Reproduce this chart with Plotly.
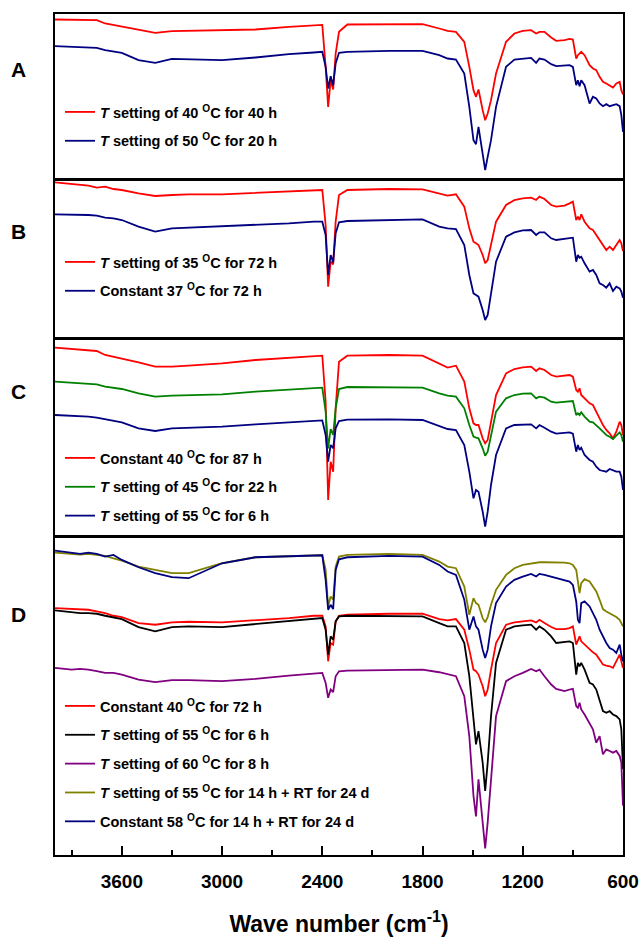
import plotly.graph_objects as go

# Wavenumber grid (cm-1) at which values were read
WAVENUMBER = [4000, 3900, 3850, 3800, 3750, 3700, 3650, 3600, 3500, 3400, 3300, 3200, 3000, 2800,
              2600, 2450, 2400, 2380, 2365, 2350, 2335, 2320, 2300, 2250, 2000, 1800, 1700, 1650,
              1600, 1550, 1520, 1495, 1480, 1465, 1440, 1425, 1410, 1390, 1360, 1300, 1250, 1200,
              1150, 1120, 1100, 1070, 1030, 1000, 950, 920, 900, 880, 870, 860, 850, 830, 800, 780,
              760, 740, 720, 700, 680, 660, 640, 620, 610, 600]

# Panel A (transmittance, arbitrary units)
A_RED = [477, 477, 477, 477, 475, 465, 460, 457, 445, 437, 442, 443, 443, 447, 455, 461, 461, 335, 215, 295,
         267, 375, 440, 462, 463, 463, 450, 443, 440, 410, 335, 265, 245, 267, 205, 175, 195, 235, 315, 410,
         435, 443, 445, 435, 440, 440, 423, 413, 415, 419, 417, 360, 370, 375, 380, 370, 340, 330, 325, 305,
         290, 285, 280, 273, 285, 290, 265, 252]
A_BLUE = [397, 395, 393, 393, 392, 385, 380, 377, 355, 347, 359, 358, 355, 363, 373, 378, 380, 335, 270, 307,
          280, 345, 377, 380, 383, 383, 370, 360, 357, 315, 215, 115, 103, 155, 75, 25, 65, 115, 215, 335,
          357, 360, 362, 347, 360, 357, 343, 337, 338, 340, 335, 280, 295, 277, 295, 280, 225, 245, 240, 225,
          217, 223, 217, 220, 223, 217, 190, 140]

# Panel B
B_RED = [467, 461, 459, 457, 451, 454, 447, 444, 434, 426, 429, 431, 431, 436, 441, 444, 444, 339, 154, 229,
         221, 349, 429, 444, 447, 446, 434, 427, 431, 394, 329, 289, 284, 279, 249, 224, 234, 279, 349, 399,
         414, 419, 421, 414, 424, 417, 399, 394, 397, 404, 409, 354, 364, 354, 371, 349, 329, 324, 309, 294,
         279, 264, 274, 264, 279, 294, 284, 261]
B_BLUE = [371, 371, 369, 369, 367, 361, 359, 354, 334, 319, 329, 331, 334, 339, 344, 349, 349, 309, 189, 249,
          227, 314, 347, 351, 354, 356, 334, 329, 327, 279, 189, 134, 129, 124, 84, 54, 69, 129, 229, 304,
          317, 323, 324, 309, 317, 317, 299, 294, 297, 299, 301, 229, 249, 241, 244, 224, 199, 204, 189, 164,
          159, 151, 164, 141, 154, 149, 139, 121]

# Panel C
C_RED = [565, 561, 559, 559, 555, 543, 538, 533, 521, 508, 508, 511, 518, 528, 535, 541, 541, 403, 108, 223,
         193, 383, 523, 541, 543, 541, 518, 505, 511, 463, 383, 338, 333, 333, 293, 278, 288, 343, 423, 488,
         501, 506, 508, 495, 503, 498, 483, 478, 481, 483, 478, 438, 433, 443, 423, 413, 398, 393, 375, 353,
         333, 318, 308, 293, 313, 343, 333, 303]
C_GREEN = [463, 460, 458, 458, 455, 448, 445, 441, 428, 418, 421, 423, 425, 433, 440, 445, 445, 373, 263, 321,
           303, 383, 441, 447, 445, 445, 428, 421, 418, 383, 333, 298, 295, 293, 263, 241, 253, 303, 373, 413,
           423, 427, 428, 413, 418, 415, 403, 400, 403, 405, 405, 363, 368, 363, 371, 358, 343, 341, 333, 323,
           313, 303, 298, 291, 301, 311, 303, 283]
C_BLUE = [363, 361, 359, 358, 355, 351, 345, 341, 323, 315, 323, 325, 328, 335, 341, 347, 347, 303, 223, 273,
          263, 323, 345, 349, 350, 348, 331, 321, 318, 273, 193, 113, 138, 133, 73, 28, 73, 153, 243, 323,
          333, 335, 335, 323, 333, 325, 313, 307, 310, 311, 307, 253, 273, 258, 265, 243, 228, 223, 208, 198,
          195, 193, 201, 198, 193, 193, 178, 138]

# Panel D
D_RED = [743, 740, 738, 738, 733, 728, 720, 716, 698, 693, 700, 702, 700, 706, 713, 720, 720, 688, 583, 638,
         633, 703, 720, 723, 726, 726, 710, 706, 710, 678, 618, 558, 553, 543, 508, 478, 498, 558, 638, 693,
         700, 703, 706, 700, 708, 698, 686, 680, 680, 683, 688, 633, 648, 658, 643, 633, 618, 610, 603, 588,
         573, 570, 568, 563, 583, 603, 583, 563]
D_BLACK = [736, 730, 728, 728, 726, 720, 716, 710, 686, 673, 686, 688, 686, 695, 706, 712, 713, 678, 603, 658,
           648, 703, 718, 720, 720, 718, 698, 688, 688, 638, 538, 418, 333, 373, 278, 193, 278, 418, 578, 678,
           688, 691, 693, 678, 688, 678, 658, 638, 640, 643, 638, 543, 578, 568, 578, 558, 518, 513, 498, 468,
           433, 428, 433, 423, 418, 408, 378, 258]
D_PURPLE = [563, 558, 560, 558, 553, 548, 548, 543, 528, 520, 526, 526, 523, 530, 540, 546, 548, 518, 473, 498,
            490, 538, 553, 555, 556, 558, 550, 543, 538, 478, 358, 178, 116, 228, 98, 20, 98, 238, 418, 523,
            538, 548, 560, 553, 558, 538, 513, 500, 493, 498, 500, 448, 443, 458, 438, 423, 398, 378, 338, 358,
            303, 318, 313, 308, 313, 298, 278, 148]
D_OLIVE = [910, 906, 904, 906, 903, 900, 893, 886, 868, 858, 848, 848, 878, 896, 900, 902, 902, 858, 748, 778,
           768, 868, 898, 903, 906, 903, 883, 868, 863, 808, 723, 773, 758, 753, 713, 700, 716, 753, 798, 843,
           863, 873, 878, 880, 881, 881, 881, 880, 880, 878, 873, 858, 813, 788, 818, 830, 823, 808, 793, 768,
           740, 733, 728, 723, 716, 708, 698, 688]
D_NAVY = [916, 908, 906, 910, 906, 898, 903, 888, 866, 848, 836, 833, 878, 896, 900, 902, 902, 828, 738, 753,
          740, 858, 890, 896, 900, 898, 873, 853, 843, 768, 678, 718, 688, 678, 618, 593, 618, 688, 758, 808,
          828, 838, 846, 838, 846, 843, 838, 833, 828, 823, 813, 763, 708, 698, 758, 763, 748, 730, 708, 678,
          658, 638, 623, 618, 608, 633, 603, 583]

PANEL_LABELS = ["A", "B", "C", "D"]
TICK_VALUES = [3600, 3000, 2400, 1800, 1200, 600]
TICK_LABELS = ["3600", "3000", "2400", "1800", "1200", "600"]
X_TITLE = "Wave number (cm<sup>-1</sup>)"

RED, NAVY, GREEN, BLACK, PURPLE, OLIVE = "#ff0000", "#000080", "#008000", "#000000", "#800080", "#808000"

PANELS = [
    [("<i>T</i> setting of 40 <sup>O</sup>C for 40 h", A_RED, RED),
     ("<i>T</i> setting of 50 <sup>O</sup>C for 20 h", A_BLUE, NAVY)],
    [("<i>T</i> setting of 35 <sup>O</sup>C for 72 h", B_RED, RED),
     ("Constant 37 <sup>O</sup>C for 72 h", B_BLUE, NAVY)],
    [("Constant 40 <sup>O</sup>C for 87 h", C_RED, RED),
     ("<i>T</i> setting of 45 <sup>O</sup>C for 22 h", C_GREEN, GREEN),
     ("<i>T</i> setting of 55 <sup>O</sup>C for 6 h", C_BLUE, NAVY)],
    [("Constant 40 <sup>O</sup>C for 72 h", D_RED, RED),
     ("<i>T</i> setting of 55 <sup>O</sup>C for 6 h", D_BLACK, BLACK),
     ("<i>T</i> setting of 60 <sup>O</sup>C for 8 h", D_PURPLE, PURPLE),
     ("<i>T</i> setting of 55 <sup>O</sup>C for 14 h + RT for 24 d", D_OLIVE, OLIVE),
     ("Constant 58 <sup>O</sup>C for 14 h + RT for 24 d", D_NAVY, NAVY)],
]

for panel in PANELS:
    for _, vals, _ in panel:
        assert len(vals) == len(WAVENUMBER), len(vals)

# layout geometry (pixels)
W, H = 642, 937
ML, MR, MT, MB = 55, 19, 14, 82
PH = H - MT - MB
BOTTOM = H - MB
panel_px = [(14, 178.5), (179.5, 338), (338.5, 536), (536.5, 855)]
yranges = [[0, 493.5], [0, 475.5], [0, 592.5], [0, 958.5]]
legend_top_px = [96, 246, 442, 690]
label_px = [70, 231, 391, 614]

def py(p):
    return (BOTTOM - p) / PH

FONT = "Liberation Sans, Arial, sans-serif"

fig = go.Figure()
for i, panel in enumerate(PANELS):
    ax = "" if i == 0 else str(i + 1)
    lg = "legend" if i == 0 else f"legend{i + 1}"
    for j, (name, vals, color) in enumerate(panel):
        fig.add_trace(go.Scatter(
            x=WAVENUMBER, y=vals, mode="lines", name=name,
            line=dict(color=color, width=1.8),
            xaxis="x" + ax, yaxis="y" + ax, legend=lg,
            legendgroup=f"p{i}s{j}",
        ))

layout = dict(
    width=W, height=H,
    margin=dict(l=ML, r=MR, t=MT, b=MB, autoexpand=False),
    paper_bgcolor="white", plot_bgcolor="white",
    font=dict(family=FONT, color="black"),
)
annotations = []
for i in range(4):
    ax = "" if i == 0 else str(i + 1)
    top, bot = panel_px[i]
    is_bottom = i == 3
    xa = dict(
        domain=[0, 1], range=[4000, 600], anchor="y" + ax, automargin=False,
        showline=True, mirror=True, linecolor="black", linewidth=2,
        showgrid=False, zeroline=False,
        showticklabels=is_bottom,
        ticks="inside" if is_bottom else "",
    )
    if is_bottom:
        xa.update(
            tickmode="array", tickvals=TICK_VALUES, ticktext=TICK_LABELS,
            ticklen=9, tickwidth=2, tickcolor="black", ticklabelstandoff=8,
            tickfont=dict(family=FONT, size=19, weight="bold", color="black"),
            minor=dict(ticks="inside", tick0=600, dtick=300, ticklen=5, tickwidth=2, tickcolor="black"),
            title=dict(text=X_TITLE, standoff=31,
                       font=dict(family=FONT, size=23, weight="bold", color="black")),
        )
    else:
        xa.update(matches="x4")
    ya = dict(
        domain=[py(bot), py(top)], range=yranges[i], anchor="x" + ax, automargin=False,
        showline=True, mirror=True, linecolor="black", linewidth=2,
        showgrid=False, zeroline=False, showticklabels=False, ticks="",
    )
    layout["xaxis" + ax] = xa
    layout["yaxis" + ax] = ya
    lg = "legend" if i == 0 else f"legend{i + 1}"
    layout[lg] = dict(
        x=(60 - ML) / (W - ML - MR), xanchor="left",
        y=py(legend_top_px[i]), yanchor="top",
        bgcolor="rgba(0,0,0,0)", borderwidth=0,
        tracegroupgap=7,
        font=dict(family=FONT, size=14.5, weight="bold", color="black"),
    )
    annotations.append(dict(
        text=PANEL_LABELS[i], xref="paper", yref="paper",
        x=(18.5 - ML) / (W - ML - MR), y=py(label_px[i]),
        xanchor="center", yanchor="middle", showarrow=False,
        font=dict(family=FONT, size=21, weight="bold", color="black"),
    ))
layout["annotations"] = annotations
layout["showlegend"] = True
fig.update_layout(**layout)

fig.write_html(
    "out.html",
    config={"displayModeBar": False},
    post_script="document.body.style.margin='0';document.body.style.padding='0';"
                "document.body.style.overflow='hidden';",
)
